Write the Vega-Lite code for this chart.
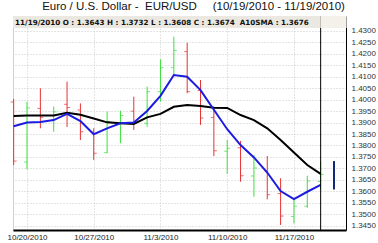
{
  "$schema": "https://vega.github.io/schema/vega-lite/v6.json",
  "autosize": {"type": "none"},
  "padding": {"left": 13, "top": 16, "right": 32, "bottom": 13},
  "width": 333,
  "height": 214,
  "background": "white",
  "config": {
    "font": "Liberation Sans",
    "view": {"stroke": "#cfcfcf", "strokeWidth": 1},
    "axisY": {"labelOverlap": false, "labelBound": false}
  },
  "title": {
    "text": "Euro / U.S. Dollar -\u00a0 EUR/USD\u00a0\u00a0\u00a0\u00a0 (10/19/2010 - 11/19/2010)",
    "fontSize": 11.5,
    "fontWeight": "normal",
    "font": "Liberation Sans",
    "color": "#111111",
    "anchor": "middle",
    "frame": "group",
    "offset": 3,
    "dx": 14
  },
  "data": {
    "values": [
      {"i": 0, "d": "10/19/2010", "o": 1.3990, "h": 1.4003, "l": 1.3715, "c": 1.3732, "ma": 1.3884, "sma": 1.3929},
      {"i": 1, "d": "10/20/2010", "o": 1.3728, "h": 1.3991, "l": 1.3696, "c": 1.3964, "ma": 1.3900, "sma": 1.3931},
      {"i": 2, "d": "10/21/2010", "o": 1.3962, "h": 1.4050, "l": 1.3875, "c": 1.3923, "ma": 1.3903, "sma": 1.3931},
      {"i": 3, "d": "10/22/2010", "o": 1.3912, "h": 1.3970, "l": 1.3860, "c": 1.3947, "ma": 1.3911, "sma": 1.3931},
      {"i": 4, "d": "10/25/2010", "o": 1.3980, "h": 1.4079, "l": 1.3881, "c": 1.3966, "ma": 1.3938, "sma": 1.3943},
      {"i": 5, "d": "10/26/2010", "o": 1.3955, "h": 1.3984, "l": 1.3824, "c": 1.3860, "ma": 1.3907, "sma": 1.3934},
      {"i": 6, "d": "10/27/2010", "o": 1.3858, "h": 1.3875, "l": 1.3737, "c": 1.3766, "ma": 1.3849, "sma": 1.3918},
      {"i": 7, "d": "10/28/2010", "o": 1.3769, "h": 1.3948, "l": 1.3766, "c": 1.3905, "ma": 1.3875, "sma": 1.3901},
      {"i": 8, "d": "10/29/2010", "o": 1.3897, "h": 1.3952, "l": 1.3810, "c": 1.3931, "ma": 1.3897, "sma": 1.3897},
      {"i": 9, "d": "11/1/2010", "o": 1.3950, "h": 1.4013, "l": 1.3868, "c": 1.3898, "ma": 1.3900, "sma": 1.3894},
      {"i": 10, "d": "11/2/2010", "o": 1.3897, "h": 1.4057, "l": 1.3882, "c": 1.4035, "ma": 1.3951, "sma": 1.3923},
      {"i": 11, "d": "11/3/2010", "o": 1.4035, "h": 1.4176, "l": 1.3991, "c": 1.4140, "ma": 1.4017, "sma": 1.3938},
      {"i": 12, "d": "11/4/2010", "o": 1.4140, "h": 1.4275, "l": 1.4108, "c": 1.4215, "ma": 1.4108, "sma": 1.3969},
      {"i": 13, "d": "11/5/2010", "o": 1.4210, "h": 1.4249, "l": 1.4028, "c": 1.4035, "ma": 1.4100, "sma": 1.3977},
      {"i": 14, "d": "11/8/2010", "o": 1.4040, "h": 1.4086, "l": 1.3890, "c": 1.3920, "ma": 1.4042, "sma": 1.3972},
      {"i": 15, "d": "11/9/2010", "o": 1.3922, "h": 1.3970, "l": 1.3754, "c": 1.3777, "ma": 1.3956, "sma": 1.3965},
      {"i": 16, "d": "11/10/2010", "o": 1.3775, "h": 1.3824, "l": 1.3676, "c": 1.3788, "ma": 1.3871, "sma": 1.3964},
      {"i": 17, "d": "11/11/2010", "o": 1.3790, "h": 1.3820, "l": 1.3642, "c": 1.3668, "ma": 1.3802, "sma": 1.3933},
      {"i": 18, "d": "11/12/2010", "o": 1.3667, "h": 1.3758, "l": 1.3576, "c": 1.3702, "ma": 1.3748, "sma": 1.3911},
      {"i": 19, "d": "11/15/2010", "o": 1.3690, "h": 1.3754, "l": 1.3565, "c": 1.3585, "ma": 1.3682, "sma": 1.3875},
      {"i": 20, "d": "11/16/2010", "o": 1.3590, "h": 1.3657, "l": 1.3453, "c": 1.3492, "ma": 1.3601, "sma": 1.3824},
      {"i": 21, "d": "11/17/2010", "o": 1.3490, "h": 1.3569, "l": 1.3460, "c": 1.3535, "ma": 1.3566, "sma": 1.3769},
      {"i": 22, "d": "11/18/2010", "o": 1.3535, "h": 1.3668, "l": 1.3528, "c": 1.3645, "ma": 1.3598, "sma": 1.3715},
      {"i": 23, "d": "11/19/2010", "o": 1.3643, "h": 1.3732, "l": 1.3608, "c": 1.3674, "ma": 1.3628, "sma": 1.3676}
    ]
  },
  "layer": [
    {
      "mark": {"type": "rule", "strokeWidth": 1},
      "encoding": {
        "x": {
          "field": "i",
          "type": "quantitative",
          "scale": {"domain": [-0.05, 24.9], "nice": false, "zero": false},
          "axis": {
            "title": null,
            "values": [1, 6, 11, 16, 21],
            "labelExpr": "datum.value == 1 ? '10/20/2010' : datum.value == 6 ? '10/27/2010' : datum.value == 11 ? '11/3/2010' : datum.value == 16 ? '11/10/2010' : '11/17/2010'",
            "labelFontSize": 8,
            "labelColor": "#222222",
            "labelPadding": 3,
            "labelOverlap": false,
            "ticks": false,
            "domainColor": "#000000",
            "domainWidth": 2,
            "grid": true,
            "gridColor": "#c8c8c8",
            "gridDash": [1, 2]
          }
        },
        "y": {
          "field": "l",
          "type": "quantitative",
          "scale": {"domain": [1.3431, 1.43655], "nice": false, "zero": false},
          "axis": {
            "title": null,
            "orient": "right",
            "values": [1.345, 1.35, 1.355, 1.36, 1.365, 1.37, 1.375, 1.38, 1.385, 1.39, 1.395, 1.4, 1.405, 1.41, 1.415, 1.42, 1.425, 1.43],
            "format": ".4f",
            "labelFontSize": 8,
            "labelColor": "#333333",
            "labelPadding": 5,
            "labelOverlap": false,
            "labelBound": false,
            "ticks": false,
            "domainColor": "#000000",
            "grid": true,
            "gridColor": "#c8c8c8",
            "gridDash": [1, 2]
          }
        },
        "y2": {"field": "h"},
        "color": {"condition": {"test": "datum.c >= datum.o", "value": "#3de03d"}, "value": "#e63232"}
      }
    },
    {
      "mark": {"type": "tick", "orient": "horizontal", "size": 3, "thickness": 1, "xOffset": -1.5},
      "encoding": {
        "x": {"field": "i", "type": "quantitative"},
        "y": {"field": "o", "type": "quantitative", "axis": {"title": null, "orient": "right", "values": [1.345, 1.35, 1.355, 1.36, 1.365, 1.37, 1.375, 1.38, 1.385, 1.39, 1.395, 1.4, 1.405, 1.41, 1.415, 1.42, 1.425, 1.43], "format": ".4f", "labelOverlap": false}},
        "color": {"condition": {"test": "datum.c >= datum.o", "value": "#3de03d"}, "value": "#e63232"}
      }
    },
    {
      "mark": {"type": "tick", "orient": "horizontal", "size": 3, "thickness": 1, "xOffset": 1.5},
      "encoding": {
        "x": {"field": "i", "type": "quantitative"},
        "y": {"field": "c", "type": "quantitative", "axis": {"title": null, "orient": "right", "values": [1.345, 1.35, 1.355, 1.36, 1.365, 1.37, 1.375, 1.38, 1.385, 1.39, 1.395, 1.4, 1.405, 1.41, 1.415, 1.42, 1.425, 1.43], "format": ".4f", "labelOverlap": false}},
        "color": {"condition": {"test": "datum.c >= datum.o", "value": "#3de03d"}, "value": "#e63232"}
      }
    },
    {
      "mark": {"type": "line", "color": "#000000", "strokeWidth": 2},
      "encoding": {
        "x": {"field": "i", "type": "quantitative"},
        "y": {"field": "sma", "type": "quantitative", "axis": {"title": null, "orient": "right", "values": [1.345, 1.35, 1.355, 1.36, 1.365, 1.37, 1.375, 1.38, 1.385, 1.39, 1.395, 1.4, 1.405, 1.41, 1.415, 1.42, 1.425, 1.43], "format": ".4f", "labelOverlap": false}}
      }
    },
    {
      "mark": {"type": "line", "color": "#1c1ce0", "strokeWidth": 2},
      "encoding": {
        "x": {"field": "i", "type": "quantitative"},
        "y": {"field": "ma", "type": "quantitative", "axis": {"title": null, "orient": "right", "values": [1.345, 1.35, 1.355, 1.36, 1.365, 1.37, 1.375, 1.38, 1.385, 1.39, 1.395, 1.4, 1.405, 1.41, 1.415, 1.42, 1.425, 1.43], "format": ".4f", "labelOverlap": false}}
      }
    },
    {
      "transform": [{"filter": "datum.i == 23"}],
      "mark": {"type": "rule", "color": "#000000", "strokeWidth": 1},
      "encoding": {
        "x": {"field": "i", "type": "quantitative"}
      }
    },
    {
      "transform": [{"filter": "datum.i == 23"}],
      "mark": {"type": "rule", "color": "#13287a", "strokeWidth": 2},
      "encoding": {
        "x": {"datum": 24},
        "y": {"field": "l", "type": "quantitative", "axis": {"title": null, "orient": "right", "values": [1.345, 1.35, 1.355, 1.36, 1.365, 1.37, 1.375, 1.38, 1.385, 1.39, 1.395, 1.4, 1.405, 1.41, 1.415, 1.42, 1.425, 1.43], "format": ".4f", "labelOverlap": false}},
        "y2": {"field": "h"}
      }
    },
    {
      "data": {"values": [{}]},
      "mark": {"type": "rect", "color": "#eae8e0"},
      "encoding": {
        "x": {"datum": -0.05},
        "x2": {"datum": 23},
        "y": {"datum": 1.43131, "axis": {"title": null, "orient": "right", "values": [1.345, 1.35, 1.355, 1.36, 1.365, 1.37, 1.375, 1.38, 1.385, 1.39, 1.395, 1.4, 1.405, 1.41, 1.415, 1.42, 1.425, 1.43], "format": ".4f", "labelOverlap": false}},
        "y2": {"datum": 1.43655}
      }
    },
    {
      "data": {"values": [{}]},
      "mark": {"type": "rect", "color": "#f3f1ea"},
      "encoding": {
        "x": {"datum": 23},
        "x2": {"datum": 24.95},
        "y": {"datum": 1.43131, "axis": {"title": null, "orient": "right", "values": [1.345, 1.35, 1.355, 1.36, 1.365, 1.37, 1.375, 1.38, 1.385, 1.39, 1.395, 1.4, 1.405, 1.41, 1.415, 1.42, 1.425, 1.43], "format": ".4f", "labelOverlap": false}},
        "y2": {"datum": 1.43655}
      }
    },
    {
      "data": {"values": [{}]},
      "mark": {"type": "text", "align": "left", "baseline": "alphabetic", "fontSize": 7.2, "fontWeight": "bold", "font": "DejaVu Sans", "color": "#111111", "dx": 2},
      "encoding": {
        "x": {"datum": -0.05},
        "y": {"datum": 1.43262, "axis": {"title": null, "orient": "right", "values": [1.345, 1.35, 1.355, 1.36, 1.365, 1.37, 1.375, 1.38, 1.385, 1.39, 1.395, 1.4, 1.405, 1.41, 1.415, 1.42, 1.425, 1.43], "format": ".4f", "labelOverlap": false}},
        "text": {"value": "11/19/2010 O : 1.3643 H : 1.3732 L : 1.3608 C : 1.3674\u00a0 A10SMA : 1.3676"}
      }
    }
  ]
}
